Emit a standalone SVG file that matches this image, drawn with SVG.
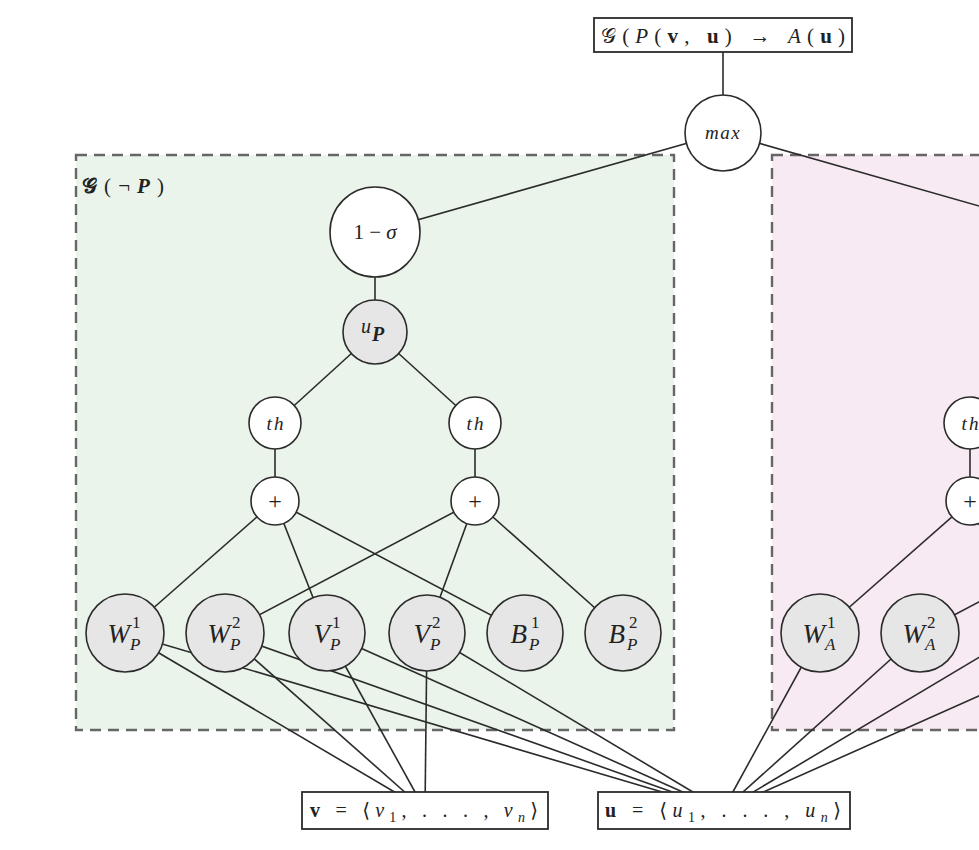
<svg xmlns="http://www.w3.org/2000/svg" width="979" height="850" viewBox="0 0 979 850">
<style>
.region{stroke:#666;stroke-width:2.4;stroke-dasharray:11 7}
.edge{stroke:#2b2b2b;stroke-width:1.6;fill:none}
.wn{fill:#fff;stroke:#2b2b2b;stroke-width:1.6}
.gn{fill:#e6e6e6;stroke:#2b2b2b;stroke-width:1.6}
.box{fill:#fff;stroke:#2b2b2b;stroke-width:1.8}
text{font-family:"Liberation Serif","DejaVu Serif",serif;fill:#222}
.it{font-style:italic}
.m{font-size:27px;font-style:italic}
.s{font-size:17px}
.th{font-size:19px;font-style:italic;letter-spacing:2px}
.pl{font-size:24px}
</style>
<rect width="979" height="850" fill="#fff"/>
<g id="region-negP">
<rect x="76" y="155" width="598" height="575" fill="#eaf4ea" class="region"/>
<text x="82" y="193" font-size="21" textLength="82" lengthAdjust="spacing"><tspan font-weight="bold">𝒢</tspan>(¬<tspan class="it" font-weight="bold">P</tspan>)</text>
</g>
<g id="region-A">
<rect x="772" y="155" width="598" height="575" fill="#f8eaf3" class="region"/>
</g>
<g id="connectors" class="edge">
<line x1="723" y1="52" x2="723" y2="133"/>
<line x1="723" y1="133" x2="375" y2="232"/>
<line x1="723" y1="133" x2="1070" y2="232"/>
<line x1="375" y1="232" x2="375" y2="332"/>
<line x1="375" y1="332" x2="275" y2="423"/>
<line x1="375" y1="332" x2="475" y2="423"/>
<line x1="275" y1="423" x2="275" y2="501"/>
<line x1="475" y1="423" x2="475" y2="501"/>
<line x1="275" y1="501" x2="125" y2="633"/>
<line x1="275" y1="501" x2="327" y2="633"/>
<line x1="275" y1="501" x2="525" y2="633"/>
<line x1="475" y1="501" x2="225" y2="633"/>
<line x1="475" y1="501" x2="427" y2="633"/>
<line x1="475" y1="501" x2="623" y2="633"/>
<line x1="125" y1="633" x2="425" y2="810"/>
<line x1="225" y1="633" x2="425" y2="810"/>
<line x1="327" y1="633" x2="425" y2="810"/>
<line x1="427" y1="633" x2="425" y2="810"/>
<line x1="125" y1="633" x2="723" y2="810"/>
<line x1="225" y1="633" x2="723" y2="810"/>
<line x1="327" y1="633" x2="723" y2="810"/>
<line x1="427" y1="633" x2="723" y2="810"/>
<line x1="1070" y1="332" x2="970" y2="423"/>
<line x1="970" y1="423" x2="970" y2="501"/>
<line x1="970" y1="501" x2="820" y2="633"/>
<line x1="970" y1="501" x2="1022" y2="633"/>
<line x1="970" y1="501" x2="1220" y2="633"/>
<line x1="1170" y1="501" x2="920" y2="633"/>
<line x1="820" y1="633" x2="723" y2="810"/>
<line x1="920" y1="633" x2="723" y2="810"/>
<line x1="1020" y1="633" x2="723" y2="810"/>
<line x1="1120" y1="633" x2="723" y2="810"/>
</g>
<g id="goal">
<rect x="594" y="18" width="258" height="34" class="box"/>
<text x="601" y="43" font-size="21" textLength="244" lengthAdjust="spacing">𝒢(<tspan class="it">P</tspan>(<tspan font-weight="bold">v</tspan>, <tspan font-weight="bold">u</tspan>) → <tspan class="it">A</tspan>(<tspan font-weight="bold">u</tspan>)</text>
</g>
<g id="max">
<circle cx="723" cy="133" r="38" class="wn"/>
<text x="723" y="139" text-anchor="middle" class="it" font-size="19" letter-spacing="1.5">max</text>
</g>
<g id="one-minus-sigma">
<circle cx="375" cy="232" r="45" class="wn"/>
<text x="375" y="239" text-anchor="middle" font-size="21">1 − <tspan class="it">σ</tspan></text>
</g>
<g id="uP">
<circle cx="375" cy="332" r="32" class="gn"/>
<text x="371" y="333" text-anchor="end" class="it" font-size="20">u</text>
<text x="372" y="341" class="it" font-size="20" font-weight="bold">P</text>
</g>
<g id="thP1">
<circle cx="275" cy="423" r="26" class="wn"/>
<text x="276" y="430" text-anchor="middle" class="th">th</text>
</g>
<g id="thP2">
<circle cx="475" cy="423" r="26" class="wn"/>
<text x="476" y="430" text-anchor="middle" class="th">th</text>
</g>
<g id="plusP1">
<circle cx="275" cy="501" r="24" class="wn"/>
<text x="275" y="509" text-anchor="middle" class="pl">+</text>
</g>
<g id="plusP2">
<circle cx="475" cy="501" r="24" class="wn"/>
<text x="475" y="509" text-anchor="middle" class="pl">+</text>
</g>
<g id="WP1">
<circle cx="125" cy="633" r="39" class="gn"/>
<text x="130" y="643" text-anchor="end" class="m">W</text>
<text x="132" y="628" class="s">1</text>
<text x="130" y="650" class="s it">P</text>
</g>
<g id="WP2">
<circle cx="225" cy="633" r="39" class="gn"/>
<text x="230" y="643" text-anchor="end" class="m">W</text>
<text x="232" y="628" class="s">2</text>
<text x="230" y="650" class="s it">P</text>
</g>
<g id="VP1">
<circle cx="327" cy="633" r="38" class="gn"/>
<text x="330" y="643" text-anchor="end" class="m">V</text>
<text x="332" y="628" class="s">1</text>
<text x="330" y="650" class="s it">P</text>
</g>
<g id="VP2">
<circle cx="427" cy="633" r="38" class="gn"/>
<text x="430" y="643" text-anchor="end" class="m">V</text>
<text x="432" y="628" class="s">2</text>
<text x="430" y="650" class="s it">P</text>
</g>
<g id="BP1">
<circle cx="525" cy="633" r="38" class="gn"/>
<text x="527" y="643" text-anchor="end" class="m">B</text>
<text x="531" y="628" class="s">1</text>
<text x="529" y="650" class="s it">P</text>
</g>
<g id="BP2">
<circle cx="623" cy="633" r="38" class="gn"/>
<text x="625" y="643" text-anchor="end" class="m">B</text>
<text x="629" y="628" class="s">2</text>
<text x="627" y="650" class="s it">P</text>
</g>
<g id="thA1">
<circle cx="970" cy="423" r="26" class="wn"/>
<text x="971" y="430" text-anchor="middle" class="th">th</text>
</g>
<g id="plusA1">
<circle cx="970" cy="501" r="24" class="wn"/>
<text x="970" y="509" text-anchor="middle" class="pl">+</text>
</g>
<g id="WA1">
<circle cx="820" cy="633" r="39" class="gn"/>
<text x="825" y="643" text-anchor="end" class="m">W</text>
<text x="827" y="628" class="s">1</text>
<text x="825" y="650" class="s it">A</text>
</g>
<g id="WA2">
<circle cx="920" cy="633" r="39" class="gn"/>
<text x="925" y="643" text-anchor="end" class="m">W</text>
<text x="927" y="628" class="s">2</text>
<text x="925" y="650" class="s it">A</text>
</g>
<g id="v-input">
<rect x="302" y="792" width="246" height="37" class="box"/>
<text x="310" y="817" font-size="20" textLength="228" lengthAdjust="spacing"><tspan font-weight="bold">v</tspan> = ⟨<tspan class="it">v</tspan><tspan font-size="14" dy="5">1</tspan><tspan dy="-5">, . . . , </tspan><tspan class="it">v</tspan><tspan font-size="14" dy="5" class="it">n</tspan><tspan dy="-5">⟩</tspan></text>
</g>
<g id="u-input">
<rect x="598" y="792" width="252" height="37" class="box"/>
<text x="605" y="817" font-size="20" textLength="236" lengthAdjust="spacing"><tspan font-weight="bold">u</tspan> = ⟨<tspan class="it">u</tspan><tspan font-size="14" dy="5">1</tspan><tspan dy="-5">, . . . , </tspan><tspan class="it">u</tspan><tspan font-size="14" dy="5" class="it">n</tspan><tspan dy="-5">⟩</tspan></text>
</g>
</svg>
